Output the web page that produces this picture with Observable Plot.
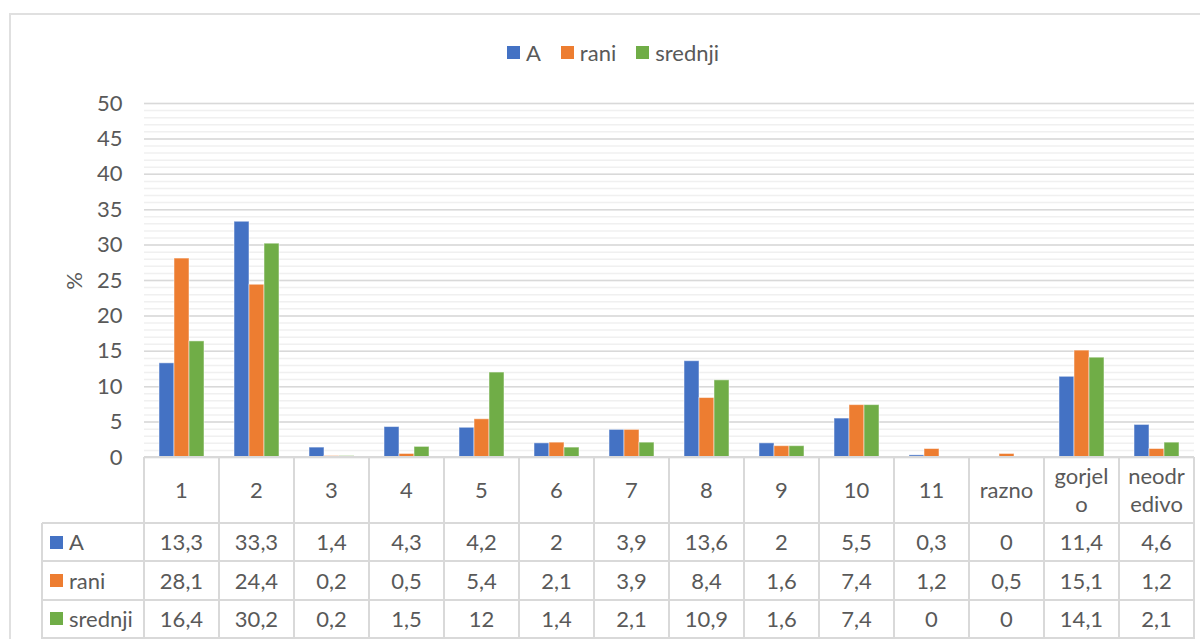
<!DOCTYPE html>
<html>
<head>
<meta charset="utf-8">
<script src="https://cdn.jsdelivr.net/npm/d3@7"></script>
<script src="https://cdn.jsdelivr.net/npm/@observablehq/plot@0.6"></script>
<style>
  html, body { margin: 0; padding: 0; background: #fff; }
  #wrap { position: relative; width: 1200px; height: 639px; overflow: hidden; font-family: Lato, "Open Sans", sans-serif; color: #595959; }
  #border { position: absolute; left: 9px; top: 13px; width: 1300px; height: 800px; border: 2px solid #e0e0e0; box-sizing: border-box; }
  #chart svg { position: absolute; left: 0; top: 0; }
  .line { position: absolute; background: #d9d9d9; }
  .cell { position: absolute; display: flex; align-items: center; justify-content: center; text-align: center; font-size: 22px; line-height: 28px; white-space: pre-line; }
  .sw { display: inline-block; width: 13px; height: 13px; }
  #legend { position: absolute; top: 39px; left: 0; width: 1226px; display: flex; justify-content: center; font-size: 22px; }
  #legend span.item { display: inline-flex; align-items: center; margin: 0 10px; }
  #legend span.sw { margin-right: 6px; }
  #ylab { position: absolute; left: 73px; top: 281px; font-size: 22px; transform: translate(-50%, -50%) rotate(-90deg); }
</style>
</head>
<body>
<div id="wrap">
  <div id="border"></div>
  <div id="chart"></div>
  <div id="legend"></div>
  <div id="ylab">%</div>
  <div id="table"></div>
</div>
<script>
const categories = ["1","2","3","4","5","6","7","8","9","10","11","razno","gorjelo","neodredivo"];
const categoryLabels = ["1","2","3","4","5","6","7","8","9","10","11","razno","gorjel\no","neodr\nedivo"];
const series = ["A","rani","srednji"];
const valuesA = [13.3,33.3,1.4,4.3,4.2,2,3.9,13.6,2,5.5,0.3,0,11.4,4.6];
const valuesRani = [28.1,24.4,0.2,0.5,5.4,2.1,3.9,8.4,1.6,7.4,1.2,0.5,15.1,1.2];
const valuesSrednji = [16.4,30.2,0.2,1.5,12,1.4,2.1,10.9,1.6,7.4,0,0,14.1,2.1];
const colors = ["#4472C4","#ED7D31","#70AD47"];
const yTicks = [0,5,10,15,20,25,30,35,40,45,50];
const yMinor = d3.range(0, 51, 1);

const seriesValues = [valuesA, valuesRani, valuesSrednji];
const data = categories.flatMap((c, i) => series.map((s, j) => ({cat: c, series: s, value: seriesValues[j][i]})));

const W = 1200, H = 639;
const chart = Plot.plot({
  width: W, height: H,
  marginLeft: 142, marginRight: 4, marginTop: 103, marginBottom: 182,
  style: {fontFamily: "Lato, sans-serif", fontSize: "22px", color: "#595959", background: "transparent", overflow: "visible"},
  fx: {domain: categories, padding: 0, axis: null, label: null},
  x: {domain: series, paddingInner: 0, paddingOuter: 0.95, axis: null, label: null},
  y: {domain: [0, 50], axis: null, label: null},
  color: {domain: series, range: colors},
  marks: [
    Plot.ruleY(yMinor, {stroke: "#f0f0f0", strokeWidth: 1.5}),
    Plot.ruleY(yTicks, {stroke: "#d9d9d9", strokeWidth: 1.5}),
    Plot.barY(data, {fx: "cat", x: "series", y: "value", fill: "series", stroke: "#ffffff", strokeOpacity: 0.5, strokeWidth: 1}),
    Plot.axisY(yTicks, {anchor: "left", tickSize: 0, tickPadding: 22, fontSize: 22, fill: "#595959", label: null, tickFormat: d => String(d)})
  ]
});
document.getElementById("chart").appendChild(chart);

// Legend
const legend = document.getElementById("legend");
series.forEach((s, j) => {
  const it = document.createElement("span");
  it.className = "item";
  it.innerHTML = `<span class="sw" style="background:${colors[j]}"></span>${s}`;
  legend.appendChild(it);
});

// Data table aligned with the fx scale
const fx = chart.scale("fx");
const yScale = chart.scale("y");
const bw = fx.bandwidth;
const table = document.getElementById("table");
const y0 = yScale.apply(0);
const headerBottom = y0 + 66;
const rowH = 38.4;
const rowTops = [headerBottom, headerBottom + rowH, headerBottom + 2 * rowH];
const tableBottom = headerBottom + 3 * rowH;
const labelLeft = 42;
const left0 = fx.apply(categories[0]);
const right0 = fx.apply(categories[categories.length - 1]) + bw;

function line(x, y, w, h) {
  const d = document.createElement("div");
  d.className = "line";
  d.style.left = x + "px"; d.style.top = y + "px"; d.style.width = w + "px"; d.style.height = h + "px";
  table.appendChild(d);
}
function cell(x, y, w, h, html, extra) {
  const d = document.createElement("div");
  d.className = "cell";
  d.style.left = x + "px"; d.style.top = y + "px"; d.style.width = w + "px"; d.style.height = h + "px";
  if (extra) Object.assign(d.style, extra);
  d.innerHTML = html;
  table.appendChild(d);
}
// vertical lines
categories.forEach(c => line(fx.apply(c) - 1, y0, 2, H - y0));
line(right0 - 1, y0, 2, H - y0);
line(labelLeft - 1, headerBottom, 2, H - headerBottom);
// horizontal lines
line(left0, y0 - 1, right0 - left0, 2);
[headerBottom, headerBottom + rowH, headerBottom + 2 * rowH, tableBottom].forEach(y => line(labelLeft, y - 1, right0 - labelLeft, 2));

// header labels
categories.forEach((c, i) => cell(fx.apply(c), y0, bw, 66, categoryLabels[i]));
// rows
const fmt = v => String(v).replace(".", ",");
series.forEach((s, j) => {
  cell(labelLeft + 8, rowTops[j], left0 - labelLeft - 8, rowH,
       `<span class="sw" style="background:${colors[j]};margin-right:6px"></span>${s}`,
       {justifyContent: "flex-start"});
  categories.forEach((c, i) => cell(fx.apply(c), rowTops[j], bw, rowH, fmt(seriesValues[j][i])));
});
</script>
</body>
</html>
